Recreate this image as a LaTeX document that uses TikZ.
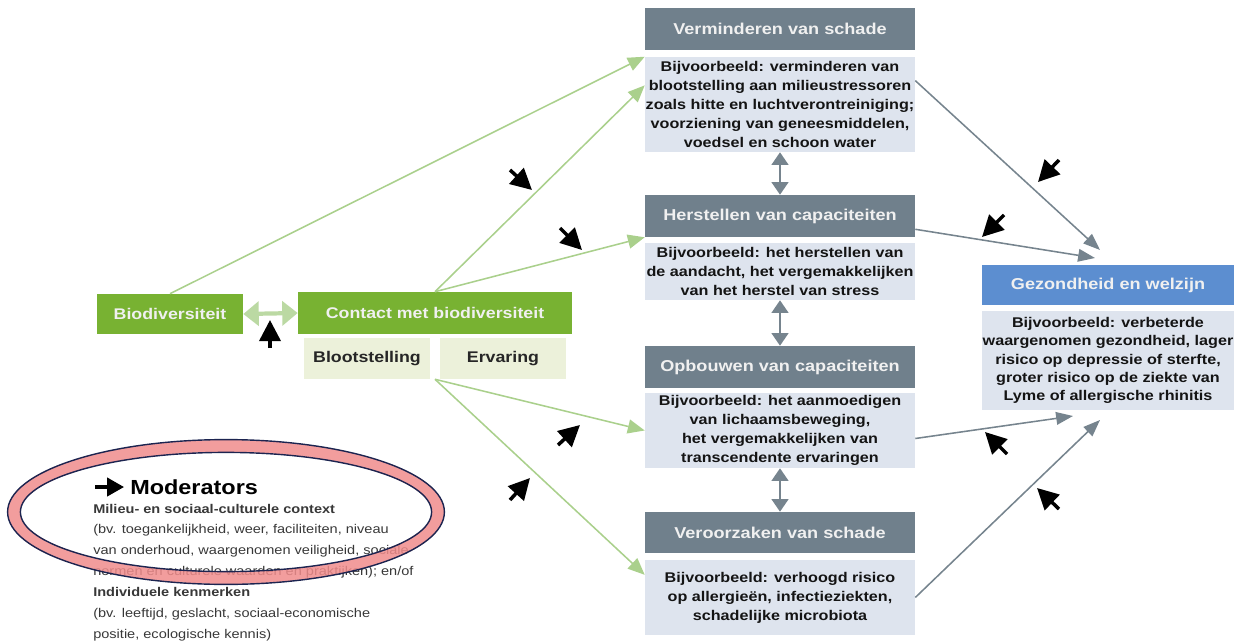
\documentclass[tikz,border=0pt]{standalone}
\usepackage{fontspec}
\setmainfont[FakeStretch=1.15]{Liberation Sans}
\usepackage{tikz}
\usetikzlibrary{arrows.meta,calc}

\definecolor{hdrgray}{RGB}{112,128,140}
\definecolor{bodyblue}{RGB}{222,228,238}
\definecolor{hdrblue}{RGB}{92,142,208}
\definecolor{biogreen}{RGB}{120,178,50}
\definecolor{palegreen}{RGB}{236,241,218}
\definecolor{linkgreen}{RGB}{170,208,140}
\definecolor{linkgray}{RGB}{118,132,142}
\definecolor{ringpink}{RGB}{240,140,140}
\definecolor{ringnavy}{RGB}{28,36,80}

\begin{document}
\begin{tikzpicture}[
    font=\fontsize{10}{13.5}\selectfont\bfseries,
    header/.style={fill=hdrgray, text=white!94!black, minimum width=6.75cm, minimum height=1.05cm, inner sep=0pt, font=\fontsize{11.2}{13}\selectfont\bfseries},
    example/.style={fill=bodyblue, text=black!92, minimum width=6.75cm, align=center, inner sep=0pt},
    greenbox/.style={fill=biogreen, text=white!94!black, minimum height=1.0cm, inner sep=0pt, font=\fontsize{11}{13}\selectfont\bfseries},
    palebox/.style={fill=palegreen, text=black!85, minimum width=3.15cm, minimum height=1.025cm, inner sep=0pt, font=\fontsize{11}{13}\selectfont\bfseries},
    greenlink/.style={draw=linkgreen, line width=1.1pt, -{Triangle[length=12pt, width=10pt]}},
    graylink/.style={draw=linkgray, line width=1.1pt, -{Triangle[length=12pt, width=9pt]}},
    graytwo/.style={draw=linkgray, line width=1.3pt, {Triangle[length=9pt, width=12pt]}-{Triangle[length=9pt, width=12pt]}},
    modarrow/.style={draw=black, line width=2.5pt, -{Triangle[length=15pt, width=15pt]}}
]
    \useasboundingbox (0,0) rectangle (30.85,-16.05);
    \clip (0,0) rectangle (30.85,-16.05);

    % mechanismen
    \node[header] (hdrA) at (19.5,-0.725) {Verminderen van schade};
    \node[example, minimum height=2.375cm] (bodyA) at (19.5,-2.6125) {Bijvoorbeeld: verminderen van\\ blootstelling aan milieustressoren\\ zoals hitte en luchtverontreiniging;\\ voorziening van geneesmiddelen,\\ voedsel en schoon water};

    \node[header] (hdrB) at (19.5,-5.4) {Herstellen van capaciteiten};
    \node[example, minimum height=1.425cm] (bodyB) at (19.5,-6.7875) {Bijvoorbeeld: het herstellen van\\ de aandacht, het vergemakkelijken\\ van het herstel van stress};

    \node[header] (hdrC) at (19.5,-9.175) {Opbouwen van capaciteiten};
    \node[example, minimum height=1.875cm] (bodyC) at (19.5,-10.7625) {Bijvoorbeeld: het aanmoedigen\\ van lichaamsbeweging,\\ het vergemakkelijken van\\ transcendente ervaringen};

    \node[header, minimum height=1.025cm] (hdrD) at (19.5,-13.3125) {Veroorzaken van schade};
    \node[example, minimum height=1.875cm] (bodyD) at (19.5,-14.9375) {Bijvoorbeeld: verhoogd risico\\ op allergieën, infectieziekten,\\ schadelijke microbiota};

    % uitkomst
    \node[header, fill=hdrblue, minimum width=6.3cm, minimum height=1.0cm] (hdrE) at (27.7,-7.125) {Gezondheid en welzijn};
    \node[example, minimum width=6.3cm, minimum height=2.475cm, font=\fontsize{10}{13}\selectfont\bfseries] (bodyE) at (27.7,-9.0125) {Bijvoorbeeld: verbeterde\\ waargenomen gezondheid, lager\\ risico op depressie of sterfte,\\ groter risico op de ziekte van\\ Lyme of allergische rhinitis};

    % bron
    \node[greenbox, minimum width=3.65cm] (bio) at (4.25,-7.85) {Biodiversiteit};
    \node[greenbox, minimum width=6.85cm, minimum height=1.05cm] (contact) at (10.875,-7.825) {Contact met biodiversiteit};
    \node[palebox] (bloot) at (9.175,-8.9625) {Blootstelling};
    \node[palebox] (erv) at (12.575,-8.9625) {Ervaring};

    \coordinate (split) at ($(bloot.south east)!0.5!(erv.south west)$);
    \coordinate (intoE1) at (27.5,-6.25);
    \coordinate (intoE2) at (27.375,-6.45);
    \coordinate (intoE3) at (26.825,-10.4);
    \coordinate (intoE4) at (27.5,-10.5);

    \draw[draw=linkgreen!80!white, line width=3pt, {Triangle[length=11pt, width=17pt]}-{Triangle[length=11pt, width=17pt]}] (bio.east) -- (contact.west);

    \draw[greenlink] (bio.north) -- (bodyA.north west);
    \draw[greenlink] (contact.north) -- ($(bodyA.north west)!0.3!(bodyA.south west)$);
    \draw[greenlink] (contact.north) -- (hdrB.south west);
    \draw[greenlink] (split) -- (bodyC.west);
    \draw[greenlink] (split) -- ($(bodyD.north west)!0.2!(bodyD.south west)$);

    \draw[graytwo] (bodyA.south) -- (hdrB.north);
    \draw[graytwo] (bodyB.south) -- (hdrC.north);
    \draw[graytwo] (bodyC.south) -- (hdrD.north);

    \draw[graylink] ($(bodyA.north east)!0.25!(bodyA.south east)$) -- (intoE1);
    \draw[graylink] ($(hdrB.south east)+(0,0.2)$) -- (intoE2);
    \draw[graylink] ($(bodyC.east)+(0,-0.2)$) -- (intoE3);
    \draw[graylink] (bodyD.east) -- (intoE4);

    % moderatoren
    \draw[modarrow] (6.75,-8.7) -- (6.75,-8.0);
    \draw[modarrow] (12.75,-4.25) -- (13.3,-4.75);
    \draw[modarrow] (14.0,-5.7) -- (14.55,-6.25);
    \draw[modarrow] (13.95,-11.125) -- (14.5,-10.625);
    \draw[modarrow] (12.75,-12.5) -- (13.25,-11.95);
    \draw[modarrow] (26.475,-4.0) -- (25.95,-4.55);
    \draw[modarrow] (25.1,-5.375) -- (24.55,-5.925);
    \draw[modarrow] (25.175,-11.35) -- (24.625,-10.8);
    \draw[modarrow] (26.475,-12.725) -- (25.925,-12.2);

    \draw[modarrow, line width=2.2pt, -{Triangle[length=12pt, width=13pt]}] (2.375,-12.175) -- (3.1,-12.175);
    \node[anchor=west, inner sep=0pt, font=\fontsize{14.5}{16}\selectfont\bfseries] (modtitle) at (3.25,-12.175) {Moderators};
    \node[anchor=north west, inner sep=0pt, align=left, text=black!78, font=\fontsize{9}{14.6}\selectfont\mdseries] (modtext) at (2.325,-12.6) {\textbf{Milieu- en sociaal-culturele context}\\ (bv. toegankelijkheid, weer, faciliteiten, niveau\\ van onderhoud, waargenomen veiligheid, sociale\\ normen en culturele waarden en praktijken); en/of\\[1pt] \textbf{Individuele kenmerken}\\ (bv. leeftijd, geslacht, sociaal-economische\\ positie, ecologische kennis)};

    % markering
    \draw[ringpink, opacity=0.85, line width=8.5pt] (5.65,-12.8) ellipse [x radius=5.3cm, y radius=1.65cm];
    \draw[ringnavy, line width=1pt] (5.65,-12.8) ellipse [x radius=5.46cm, y radius=1.81cm];
    \draw[ringnavy, line width=1pt] (5.65,-12.8) ellipse [x radius=5.14cm, y radius=1.49cm];

\end{tikzpicture}
\end{document}
